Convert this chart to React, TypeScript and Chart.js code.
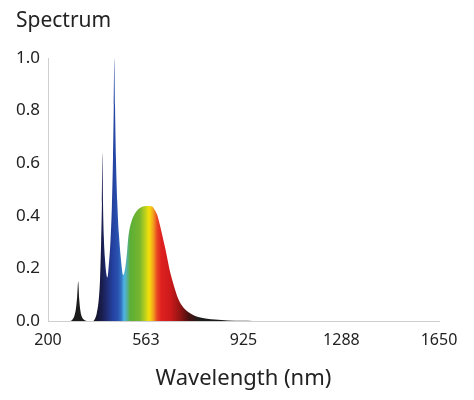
import { useEffect, useRef } from 'react';
import { Chart, registerables } from 'chart.js';

Chart.register(...registerables);

// spectrum (wavelength in nm, relative intensity)
const wavelengths = [
  200, 280, 290, 298, 304, 308, 312, 316, 320, 326, 335, 345,
  368, 375, 381, 388, 393, 397, 400, 402, 404, 407, 411, 415, 420,
  426, 432, 437, 441, 444, 446, 448.5, 452, 457, 463, 470, 479,
  486, 492, 498, 510, 523, 535, 552, 570, 586, 597, 606, 615,
  625, 634, 643, 652, 661, 671, 683, 696, 708, 720, 740, 757,
  790, 819, 868, 920, 960, 1650,
];
const intensity = [
  0, 0, 0.005, 0.02, 0.05, 0.09, 0.15, 0.08, 0.04, 0.015, 0.004, 0,
  0, 0.01, 0.03, 0.08, 0.16, 0.3, 0.45, 0.64, 0.45, 0.32, 0.24, 0.19, 0.165,
  0.22, 0.31, 0.44, 0.62, 0.82, 1.0, 0.82, 0.62, 0.45, 0.33, 0.24, 0.175,
  0.2, 0.25, 0.32, 0.38, 0.41, 0.425, 0.435, 0.437, 0.435, 0.42, 0.4, 0.365,
  0.32, 0.28, 0.235, 0.19, 0.155, 0.12, 0.085, 0.06, 0.045, 0.034, 0.022, 0.015,
  0.009, 0.006, 0.002, 0.0005, 0, 0,
];

const xTicks = [200, 563, 925, 1288, 1650];
const yTicks = [0, 0.2, 0.4, 0.6, 0.8, 1.0];

// fill colour along the wavelength axis
const colorStops = [368, 385, 400, 420, 440, 460, 472, 482, 492, 505, 540, 560, 575, 590, 605, 620, 655, 690, 720, 760];
const stopColors = [
  '#1c1c1c', '#141538', '#1a1e4e', '#1f2e78', '#2441a0', '#2a52b0', '#3476c4', '#4fb4e6',
  '#54b0a8', '#5cae36', '#76b62e', '#bcd01e', '#f6e10a', '#f2a21e', '#e84422', '#e02020',
  '#cc1a1a', '#921414', '#4e1010', '#1c1c1c',
];

const FONT = '"Noto Sans", sans-serif';

// chart heading, drawn at the left edge of the tick labels
const headingPlugin = {
  id: 'heading',
  afterDraw(chart: Chart) {
    const c = chart.ctx;
    c.save();
    c.fillStyle = '#222';
    c.font = `21px ${FONT}`;
    c.textAlign = 'left';
    c.textBaseline = 'middle';
    c.fillText('Spectrum', 16, 21);
    c.restore();
  },
};

export default function App() {
  const canvasRef = useRef<HTMLCanvasElement>(null);
  const chartRef = useRef<Chart | null>(null);

  useEffect(() => {
    if (!canvasRef.current) return;
    if (chartRef.current) chartRef.current.destroy();

    Chart.defaults.font.family = FONT;
    Chart.defaults.color = '#222';

    chartRef.current = new Chart(canvasRef.current, {
      type: 'line',
      data: {
        datasets: [
          {
            data: wavelengths.map((w, i) => ({ x: w, y: intensity[i] })),
            fill: 'origin',
            borderWidth: 0,
            pointRadius: 0,
            cubicInterpolationMode: 'monotone',
            backgroundColor: (ctx: any) => {
              const chart = ctx.chart;
              if (!chart.chartArea) return '#222';
              const x = chart.scales.x;
              const x0 = x.getPixelForValue(200);
              const x1 = x.getPixelForValue(1650);
              const g = chart.ctx.createLinearGradient(x0, 0, x1, 0);
              colorStops.forEach((w, i) => g.addColorStop((w - 200) / 1450, stopColors[i]));
              return g;
            },
          },
        ],
      },
      options: {
        animation: false,
        responsive: true,
        maintainAspectRatio: false,
        layout: { padding: { left: 0, right: 35, top: 58, bottom: 0 } },
        plugins: {
          legend: { display: false },
          tooltip: { enabled: false },
          title: { display: false },
        },
        scales: {
          x: {
            type: 'linear',
            min: 200,
            max: 1650,
            afterBuildTicks: (scale: any) => {
              scale.ticks = xTicks.map((v) => ({ value: v }));
            },
            afterFit: (scale: any) => {
              scale.height = 79;
            },
            grid: { display: false, drawTicks: false },
            border: { color: '#cfcfcf', width: 1 },
            ticks: {
              font: { size: 16 },
              color: '#222',
              padding: 10,
              maxRotation: 0,
              callback: (v: any) => String(v),
            },
            title: {
              display: true,
              text: 'Wavelength (nm)',
              color: '#222',
              font: { size: 22 },
              padding: { top: 0, bottom: 8 },
            },
          },
          y: {
            min: 0,
            max: 1,
            afterBuildTicks: (scale: any) => {
              scale.ticks = yTicks.map((v) => ({ value: v }));
            },
            afterFit: (scale: any) => {
              scale.width = 48;
            },
            grid: { display: false, drawTicks: false },
            border: { color: '#cfcfcf', width: 1 },
            ticks: {
              font: { size: 17 },
              color: '#222',
              padding: 8,
              callback: (v: any) => Number(v).toFixed(1),
            },
          },
        },
      },
      plugins: [headingPlugin],
    });

    return () => {
      if (chartRef.current) {
        chartRef.current.destroy();
        chartRef.current = null;
      }
    };
  }, []);

  return (
    <div style={{ position: 'absolute', left: 0, top: 0, width: 474, height: 400, background: '#fff' }}>
      <canvas ref={canvasRef}></canvas>
    </div>
  );
}
